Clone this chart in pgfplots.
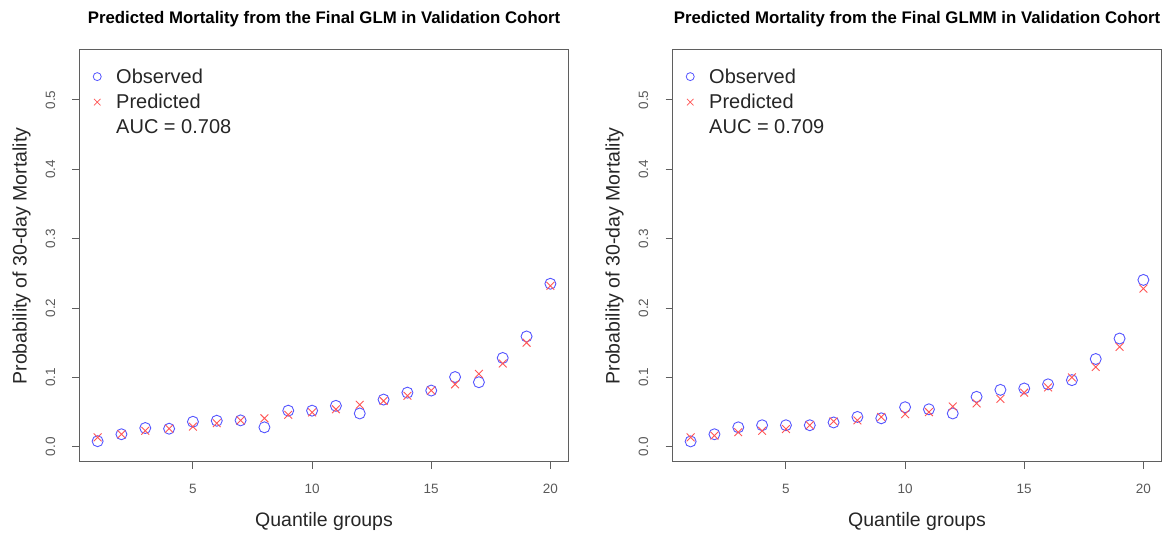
\documentclass[border=0pt]{standalone}
\usepackage{pgfplots}
\pgfplotsset{compat=1.18}
\usepackage{pgfplotstable}
\usepackage{fontspec}
\setmainfont{Liberation Sans}
\definecolor{obsblue}{RGB}{85,85,255}
\definecolor{predred}{RGB}{255,85,85}
\definecolor{axgray}{RGB}{95,95,95}

\pgfplotstableread{
q obs pred
1 0.008 0.0135
2 0.018 0.018
3 0.027 0.023
4 0.026 0.026
5 0.036 0.029
6 0.0375 0.034
7 0.038 0.038
8 0.028 0.041
9 0.052 0.046
10 0.052 0.0495
11 0.059 0.054
12 0.048 0.0605
13 0.068 0.066
14 0.078 0.0735
15 0.081 0.081
16 0.1005 0.090
17 0.093 0.105
18 0.128 0.120
19 0.159 0.150
20 0.235 0.232
}\glmdata

\pgfplotstableread{
q obs pred
1 0.0077 0.0135
2 0.018 0.016
3 0.028 0.021
4 0.031 0.023
5 0.031 0.0255
6 0.031 0.031
7 0.035 0.0365
8 0.043 0.038
9 0.041 0.043
10 0.057 0.047
11 0.054 0.050
12 0.048 0.058
13 0.072 0.0625
14 0.082 0.069
15 0.084 0.078
16 0.090 0.0855
17 0.096 0.100
18 0.1265 0.115
19 0.156 0.144
20 0.2405 0.228
}\glmmdata

\pgfplotsset{
  rplot/.style={
    scale only axis,
    width=489pt, height=412pt,
    xmin=0.24, xmax=20.76,
    ymin=-0.022, ymax=0.572,
    xtick={5,10,15,20},
    ytick={0,0.1,0.2,0.3,0.4,0.5},
    /pgf/number format/assume math mode=true,
    xticklabel={\pgfmathprintnumber{\tick}},
    yticklabel={\pgfmathprintnumber[fixed,fixed zerofill,precision=1]{\tick}},
    axis line style={axgray, line width=1pt},
    tick style={axgray, line width=1pt},
    tick align=outside,
    major tick length=7pt,
    xtick pos=bottom, ytick pos=left,
    ticklabel style={font=\fontsize{13.5}{15}\selectfont, text=black!65},
    xticklabel style={yshift=-12pt},
    yticklabel style={rotate=90, anchor=south, inner sep=17pt},
    xlabel={Quantile groups},
    ylabel={Probability of 30-day Mortality},
    label style={font=\fontsize{19.5}{23}\selectfont, text=black!85},
    x label style={at={(axis description cs:0.5,-0.145)}, anchor=center},
    y label style={at={(axis description cs:-0.1186,0.5)}, anchor=center},
    title style={at={(axis description cs:0.5,1)}, yshift=25pt, anchor=center,
                 font=\bfseries\fontsize{16.8}{19}\selectfont},
    legend style={draw=none, fill=none, at={(axis description cs:0.021,0.965)},
                  anchor=north west, font=\fontsize{20}{24}\selectfont,
                  row sep=5.5pt, text=black!85,
                  /tikz/every odd column/.append style={column sep=13pt}},
    legend cell align=left,
  },
  obsstyle/.style={only marks, mark=o, mark size=5.5pt, obsblue, line width=0.9pt,
    legend image code/.code={\draw[mark size=4pt, line width=0.8pt, ##1] plot coordinates {(0.15cm,0cm)};}},
  predstyle/.style={only marks, mark=x, mark size=5.5pt, predred, line width=0.9pt,
    legend image code/.code={\draw[mark size=4.6pt, line width=0.8pt, ##1] plot coordinates {(0.15cm,0cm)};}},
}

\begin{document}
\begin{tikzpicture}
\useasboundingbox (0,0) rectangle (1171pt,533pt);

\begin{axis}[rplot, at={(79.5pt,71pt)}, anchor=south west,
  title={Predicted Mortality from the Final GLM in Validation Cohort}]
\addplot[obsstyle] table[x=q, y=obs] {\glmdata};
\addlegendentry{Observed}
\addplot[predstyle] table[x=q, y=pred] {\glmdata};
\addlegendentry{Predicted}
\addlegendimage{empty legend}
\addlegendentry{AUC = 0.708}
\end{axis}

\begin{axis}[rplot, at={(672.5pt,71pt)}, anchor=south west,
  title={Predicted Mortality from the Final GLMM in Validation Cohort}]
\addplot[obsstyle] table[x=q, y=obs] {\glmmdata};
\addlegendentry{Observed}
\addplot[predstyle] table[x=q, y=pred] {\glmmdata};
\addlegendentry{Predicted}
\addlegendimage{empty legend}
\addlegendentry{AUC = 0.709}
\end{axis}
\end{tikzpicture}
\end{document}
